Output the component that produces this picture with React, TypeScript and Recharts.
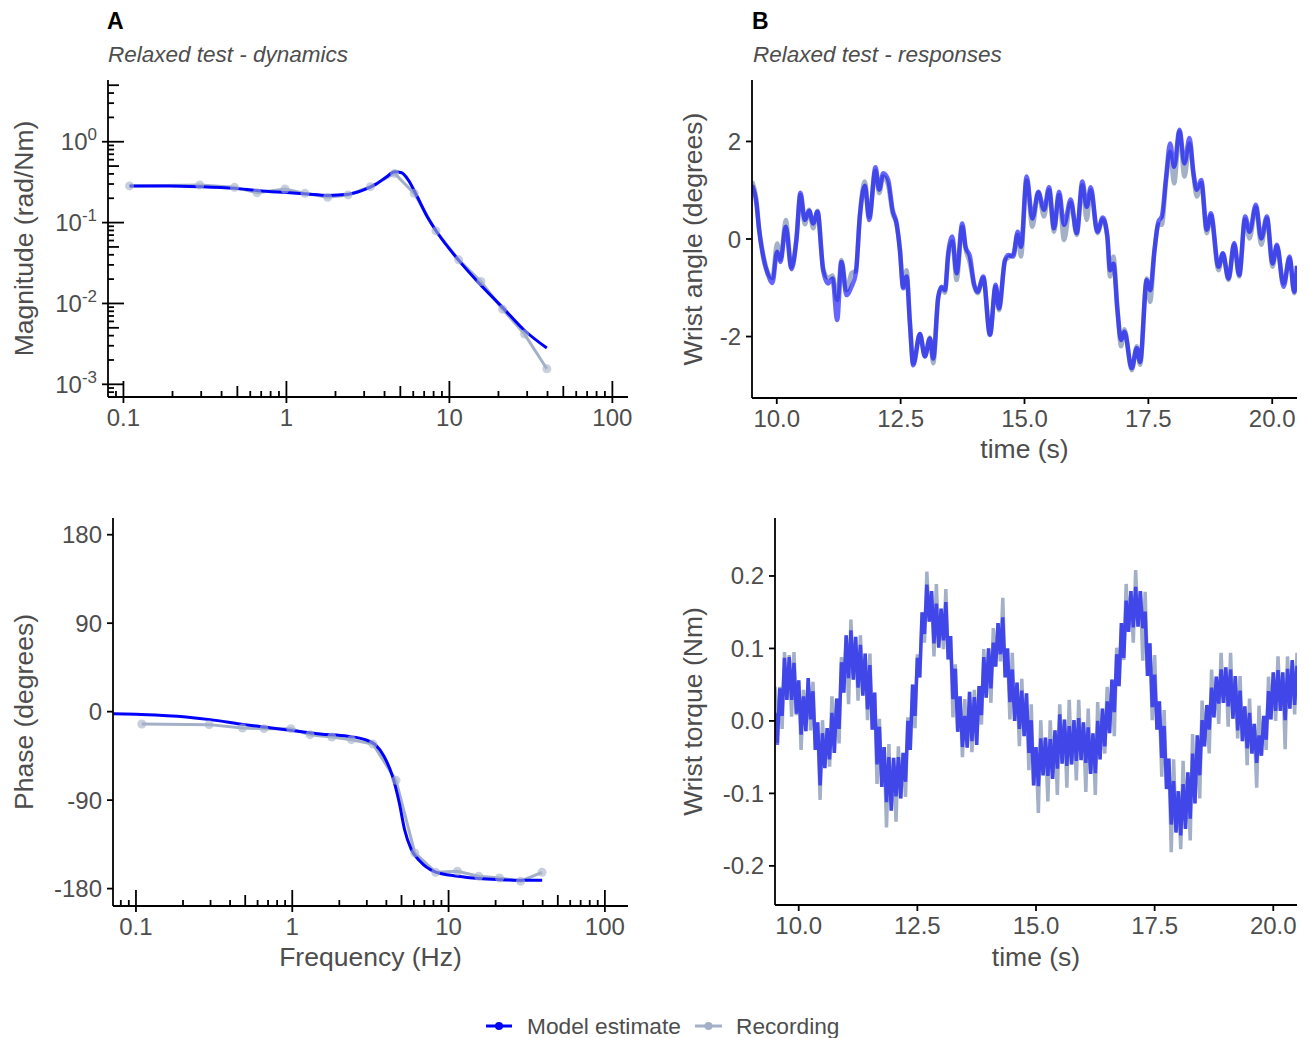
import React from "react";
import { LineChart, Line, XAxis, YAxis } from "recharts";

const FONT = "'Liberation Sans', Arial, Helvetica, sans-serif";
const INK = "#4d4d4d";
const BLUE = "#0000ff";
const GRAY = "#a3b0c8";

// ---- panel A: frequency response ----
const REC_FREQ = [0.109, 0.294, 0.48, 0.66, 0.98, 1.3, 1.79, 2.39, 3.28, 4.61, 6.08, 8.27, 11.4, 15.6, 21.2, 28.9, 39.6];
const REC_MAG = [0.284, 0.292, 0.273, 0.234, 0.26, 0.23, 0.206, 0.22, 0.278, 0.406, 0.23, 0.0789, 0.0346, 0.0187, 0.0085, 0.00418, 0.00156];
const REC_PHASE = [-12.5, -13.2, -16.6, -17.3, -17.3, -23.4, -25.8, -28.5, -32.9, -69.8, -143.7, -163.4, -162.4, -167.5, -169.2, -172.5, -163.4];

const MODEL_MAG_FREQ = [0.109, 0.19, 0.294, 0.48, 0.675, 1.0, 1.33, 1.79, 2.39, 2.9, 3.53, 4.08, 4.61, 5.09, 5.6, 6.32, 7.3, 8.48, 11.35, 15.2, 21.4, 28.6, 39.6];
const MODEL_MAG = [0.284, 0.284, 0.278, 0.265, 0.248, 0.235, 0.226, 0.217, 0.224, 0.248, 0.297, 0.363, 0.426, 0.414, 0.336, 0.213, 0.119, 0.0738, 0.0346, 0.0178, 0.00875, 0.00473, 0.00281];

const MODEL_PHASE_FREQ = [0.0713, 0.1, 0.209, 0.298, 0.495, 0.741, 1.0, 1.51, 2.26, 2.92, 3.4, 3.86, 4.38, 4.84, 5.23, 5.78, 6.57, 8.04, 11.5, 15.6, 21.1, 28.8, 39.7];
const MODEL_PHASE = [-2.0, -2.7, -5.4, -8.1, -13.2, -16.6, -19.3, -22.7, -25.1, -28.5, -33.6, -45.4, -65.8, -92.9, -120, -140.3, -152.2, -162.4, -167.5, -169.8, -170.9, -171.5, -171.5];

// ---- panel B: time responses ----
const ANGLE_T = [
  9.5, 9.589, 9.643, 9.724, 9.825, 9.912, 10.007, 10.074, 10.182, 10.296,
  10.397, 10.478, 10.566, 10.653, 10.734, 10.822, 10.936, 11.037, 11.125, 11.219,
  11.306, 11.407, 11.508, 11.596, 11.677, 11.778, 11.865, 11.993, 12.067, 12.148,
  12.249, 12.337, 12.418, 12.485, 12.552, 12.62, 12.687, 12.754, 12.889, 12.99,
  13.091, 13.158, 13.259, 13.327, 13.394, 13.461, 13.542, 13.63, 13.744, 13.811,
  13.899, 13.98, 14.054, 14.168, 14.303, 14.418, 14.485, 14.606, 14.673, 14.774,
  14.862, 14.929, 15.044, 15.158, 15.279, 15.394, 15.495, 15.596, 15.697, 15.798,
  15.933, 16.054, 16.168, 16.256, 16.337, 16.471, 16.579, 16.673, 16.727, 16.795,
  16.875, 16.949, 17.017, 17.165, 17.266, 17.333, 17.468, 17.535, 17.623, 17.704,
  17.771, 17.859, 17.939, 18.02, 18.128, 18.229, 18.33, 18.411, 18.478, 18.566,
  18.68, 18.761, 18.916, 19.003, 19.118, 19.232, 19.333, 19.454, 19.542, 19.67,
  19.778, 19.892, 20.007, 20.094, 20.229, 20.35, 20.444, 20.5,
];
const ANGLE_MODEL = [
  1.1, 0.73, 0.19, -0.36, -0.74, -0.9, -0.26, -0.47, 0.25, -0.62,
  -0.02, 0.95, 0.39, 0.58, 0.32, 0.56, -0.64, -0.91, -0.81, -1.66,
  -0.47, -1.15, -0.98, -0.7, 0.46, 1.09, 0.39, 1.47, 1.01, 1.35,
  1.21, 0.6, 0.32, -0.23, -1.01, -0.77, -1.73, -2.59, -1.95, -2.41,
  -2.04, -2.45, -1.18, -0.98, -1.05, -0.29, 0.05, -0.7, 0.32, -0.16,
  -0.36, -0.91, -1.08, -0.77, -1.97, -0.94, -1.42, -0.43, -0.33, -0.36,
  0.15, -0.16, 1.28, 0.42, 0.97, 0.6, 1.06, 0.22, 0.97, 0.29,
  0.81, 0.12, 1.18, 0.66, 1.06, 0.15, 0.44, 0.05, -0.64, -0.51,
  -1.46, -2.07, -1.9, -2.65, -2.24, -2.52, -0.84, -1.05, -0.23, 0.36,
  0.46, 1.28, 1.96, 1.48, 2.24, 1.55, 2.07, 1.35, 1.01, 1.21,
  0.19, 0.53, -0.57, -0.29, -0.81, -0.08, -0.74, 0.46, 0.15, 0.7,
  0.01, 0.46, -0.5, -0.12, -0.98, -0.36, -1.08, -0.55,
];
const ANGLE_REC = [
  1.18, 0.8, 0.22, -0.3, -0.7, -0.8, -0.09, -0.42, 0.39, -0.58,
  0.02, 0.9, 0.3, 0.6, 0.22, 0.58, -0.6, -0.8, -0.75, -1.25,
  -0.43, -1.05, -0.7, -0.65, 0.5, 1.18, 0.45, 1.4, 0.94, 1.28,
  1.1, 0.53, 0.3, -0.2, -0.98, -0.64, -1.7, -2.55, -1.95, -2.4,
  -2.02, -2.55, -1.22, -1.0, -1.1, -0.35, -0.05, -0.84, 0.25, -0.2,
  -0.5, -0.95, -1.11, -0.8, -1.95, -0.98, -1.46, -0.45, -0.38, -0.3,
  0.08, -0.36, 1.2, 0.25, 0.95, 0.46, 1.0, 0.15, 0.9, -0.02,
  0.75, 0.08, 1.1, 0.39, 1.0, 0.12, 0.4, 0.02, -0.77, -0.36,
  -1.4, -2.2, -1.85, -2.69, -2.2, -2.58, -0.81, -1.29, -0.25, 0.3,
  0.29, 1.2, 1.79, 1.14, 2.2, 1.28, 1.96, 1.3, 0.87, 1.15,
  0.12, 0.48, -0.64, -0.3, -0.84, -0.12, -0.77, 0.4, 0.01, 0.65,
  -0.12, 0.42, -0.57, -0.15, -0.91, -0.4, -1.11, -0.55,
];

// torque is sampled every 50 ms from 9.5 s
const TORQUE_T0 = 9.5;
const TORQUE_DT = 0.05;
const TORQUE_MODEL = [
  0.011, -0.033, 0.045, 0.007, 0.087, 0.029, 0.088, 0.029, 0.080, 0.010,
  0.056, -0.019, 0.034, -0.014, 0.059, 0.002, 0.041, -0.040, -0.002, -0.089,
  -0.017, -0.065, -0.010, -0.053, 0.011, -0.044, 0.031, -0.011, 0.081, 0.039,
  0.118, 0.059, 0.125, 0.057, 0.116, 0.046, 0.105, 0.035, 0.093, 0.016,
  0.077, -0.012, 0.039, -0.060, -0.008, -0.091, -0.036, -0.112, -0.050, -0.124,
  -0.051, -0.104, -0.050, -0.107, -0.044, -0.084, 0.000, -0.040, 0.050, 0.007,
  0.087, 0.060, 0.150, 0.120, 0.188, 0.137, 0.179, 0.107, 0.162, 0.101,
  0.155, 0.111, 0.164, 0.085, 0.117, 0.030, 0.072, -0.015, 0.034, -0.036,
  0.007, -0.037, 0.040, -0.028, 0.033, -0.033, 0.048, 0.008, 0.088, 0.032,
  0.100, 0.045, 0.108, 0.075, 0.135, 0.092, 0.143, 0.060, 0.100, 0.026,
  0.071, 0.000, 0.053, -0.011, 0.042, -0.021, 0.038, -0.044, 0.001, -0.089,
  -0.036, -0.090, -0.024, -0.075, -0.023, -0.076, -0.025, -0.080, -0.013, -0.066,
  0.009, -0.059, 0.002, -0.062, -0.007, -0.060, 0.001, -0.055, 0.004, -0.054,
  -0.002, -0.058, -0.009, -0.073, -0.017, -0.072, 0.000, -0.053, 0.017, -0.035,
  0.027, -0.017, 0.057, 0.012, 0.092, 0.048, 0.135, 0.087, 0.166, 0.123,
  0.179, 0.129, 0.185, 0.130, 0.179, 0.128, 0.151, 0.062, 0.107, 0.019,
  0.064, -0.012, 0.027, -0.051, -0.007, -0.094, -0.052, -0.143, -0.083, -0.154,
  -0.097, -0.158, -0.087, -0.149, -0.071, -0.135, -0.045, -0.114, -0.020, -0.075,
  0.001, -0.035, 0.022, -0.012, 0.046, 0.005, 0.061, 0.024, 0.071, 0.025,
  0.074, 0.020, 0.071, 0.003, 0.062, -0.013, 0.042, -0.028, 0.020, -0.038,
  0.011, -0.045, -0.004, -0.058, -0.020, -0.048, 0.007, -0.026, 0.041, 0.002,
  0.067, 0.014, 0.070, 0.014, 0.067, 0.001, 0.072, 0.017, 0.084, 0.022,
  0.076,
];
const TORQUE_REC = [
  0.047, -0.030, 0.047, -0.011, 0.095, 0.029, 0.091, 0.006, 0.095, 0.008,
  0.056, -0.040, 0.043, -0.014, 0.059, -0.013, 0.054, -0.040, -0.002, -0.109,
  0.001, -0.065, -0.010, -0.063, 0.034, -0.044, 0.031, -0.031, 0.088, 0.039,
  0.118, 0.023, 0.140, 0.057, 0.116, 0.028, 0.118, 0.035, 0.093, 0.001,
  0.093, -0.012, 0.039, -0.087, 0.003, -0.091, -0.036, -0.147, -0.032, -0.124,
  -0.051, -0.139, -0.035, -0.107, -0.044, -0.105, 0.005, -0.040, 0.050, -0.010,
  0.092, 0.060, 0.150, 0.108, 0.206, 0.137, 0.179, 0.089, 0.189, 0.101,
  0.155, 0.099, 0.182, 0.085, 0.117, 0.005, 0.078, -0.015, 0.034, -0.050,
  0.030, -0.037, 0.040, -0.043, 0.043, -0.033, 0.048, -0.005, 0.099, 0.032,
  0.100, 0.025, 0.128, 0.075, 0.135, 0.082, 0.170, 0.060, 0.100, 0.002,
  0.094, 0.000, 0.053, -0.035, 0.058, -0.021, 0.038, -0.068, 0.023, -0.089,
  -0.036, -0.127, 0.001, -0.075, -0.023, -0.111, 0.001, -0.080, -0.013, -0.102,
  0.023, -0.059, 0.002, -0.092, 0.029, -0.060, 0.001, -0.082, 0.029, -0.054,
  -0.002, -0.098, 0.017, -0.073, -0.017, -0.102, 0.026, -0.053, 0.017, -0.045,
  0.047, -0.017, 0.057, -0.021, 0.101, 0.048, 0.135, 0.084, 0.189, 0.123,
  0.179, 0.108, 0.208, 0.130, 0.179, 0.083, 0.178, 0.062, 0.107, 0.001,
  0.091, -0.012, 0.027, -0.077, 0.015, -0.094, -0.052, -0.181, -0.053, -0.154,
  -0.097, -0.177, -0.055, -0.149, -0.071, -0.165, -0.018, -0.114, -0.020, -0.107,
  0.028, -0.035, 0.022, -0.045, 0.071, 0.005, 0.061, -0.004, 0.094, 0.025,
  0.074, -0.008, 0.094, 0.003, 0.062, -0.024, 0.062, -0.028, 0.020, -0.061,
  0.031, -0.045, -0.004, -0.092, 0.021, -0.048, 0.007, -0.040, 0.061, 0.002,
  0.067, 0.000, 0.089, 0.014, 0.067, -0.039, 0.089, 0.017, 0.084, 0.009,
  0.094,
];

// axes
const MAG_X_DOMAIN: [number, number] = [0.0804, 124.7];
const MAG_Y_DOMAIN: [number, number] = [0.000697, 5.8];
const PHASE_X_DOMAIN: [number, number] = [0.0713, 140.6];
const PHASE_Y_DOMAIN: [number, number] = [-197.7, 197];
const PHASE_TICKS = [-180, -90, 0, 90, 180];
const TIME_DOMAIN: [number, number] = [9.5, 20.5];
const TIME_TICKS = [10, 12.5, 15, 17.5, 20];
const ANGLE_DOMAIN: [number, number] = [-3.26, 3.26];
const ANGLE_TICKS = [-2, 0, 2];
const TORQUE_DOMAIN: [number, number] = [-0.254, 0.28];
const TORQUE_TICKS = [-0.2, -0.1, 0, 0.1, 0.2];

const DECADES = [0.0001, 0.001, 0.01, 0.1, 1, 10, 100];
const STEPS = [1, 2, 3, 4, 5, 6, 7, 8, 9];
const logTicks = ([lo, hi]: [number, number]) =>
  DECADES.flatMap((d) => STEPS.map((s) => Number((s * d).toPrecision(2)))).filter((v) => v >= lo && v <= hi);
const mantissa = (v: number) => Math.round(v / Math.pow(10, Math.floor(Math.log10(v) + 1e-9)));

const TICK = 6;
const GAP_X = 6;
const GAP_Y = 5;
const AXIS = { stroke: "#000", strokeWidth: 1.8 };
const TICK_TEXT = { fill: INK, fontSize: 24, fontFamily: FONT };
const TITLE = { fill: INK, fontSize: 26.5, fontFamily: FONT };

const tickLen = (m: number) => (m === 1 ? 16 : m === 5 ? 11 : 6);

function LogXTick(props: any) {
  const { x, y, payload } = props;
  const v = payload.value;
  const m = mantissa(v);
  const base = y - TICK - GAP_X;
  return (
    <g>
      <line x1={x} x2={x} y1={m === 1 ? base + TICK : base} y2={base - tickLen(m)} stroke="#000" strokeWidth={1.8} />
      {m === 1 && (
        <text x={x} y={y} dy="0.71em" textAnchor="middle" {...TICK_TEXT}>
          {v}
        </text>
      )}
    </g>
  );
}

function LogYTick(props: any) {
  const { x, y, payload } = props;
  const v = payload.value;
  const m = mantissa(v);
  const base = x + TICK + GAP_Y;
  return (
    <g>
      <line x1={m === 1 ? base - TICK : base} x2={base + tickLen(m)} y1={y} y2={y} stroke="#000" strokeWidth={1.8} />
      {m === 1 && (
        <text x={x} y={y} dy="0.36em" textAnchor="end" {...TICK_TEXT}>
          10
          <tspan dy={-10} fontSize={17}>
            {Math.round(Math.log10(v))}
          </tspan>
        </text>
      )}
    </g>
  );
}

const zip = (xs: number[], ys: number[], k: string) => xs.map((x, i) => ({ [k]: x, v: ys[i] }));
const recMag = zip(REC_FREQ, REC_MAG, "f");
const recPhase = zip(REC_FREQ, REC_PHASE, "f");
const modelMag = zip(MODEL_MAG_FREQ, MODEL_MAG, "f");
const modelPhase = zip(MODEL_PHASE_FREQ, MODEL_PHASE, "f");
const angleModel = zip(ANGLE_T, ANGLE_MODEL, "t");
const angleRec = zip(ANGLE_T, ANGLE_REC, "t");
const torqueRows = (vals: number[]) => vals.map((v, i) => ({ t: +(TORQUE_T0 + i * TORQUE_DT).toFixed(2), v }));
const torqueModel = torqueRows(TORQUE_MODEL);
const torqueRec = torqueRows(TORQUE_REC);

const recDot = { r: 4.5, fill: GRAY, fillOpacity: 0.6, stroke: "none" };

function Overlay() {
  return (
    <svg width={1309} height={1038} style={{ position: "absolute", left: 0, top: 0 }}>
      <text x={107} y={29} fontFamily={FONT} fontSize={23} fontWeight="bold" fill="#000">A</text>
      <text x={752} y={29} fontFamily={FONT} fontSize={23} fontWeight="bold" fill="#000">B</text>
      <text x={108} y={62} fontFamily={FONT} fontSize={22.5} fontStyle="italic" fill={INK}>Relaxed test - dynamics</text>
      <text x={753} y={62} fontFamily={FONT} fontSize={22.5} fontStyle="italic" fill={INK}>Relaxed test - responses</text>
      <line x1={486} x2={512} y1={1026} y2={1026} stroke={BLUE} strokeWidth={3} />
      <circle cx={499} cy={1026} r={4} fill={BLUE} />
      <text x={527} y={1034} fontFamily={FONT} fontSize={22.7} fill={INK}>Model estimate</text>
      <line x1={695} x2={722} y1={1026} y2={1026} stroke={GRAY} strokeWidth={3} />
      <circle cx={708.5} cy={1026} r={4} fill={GRAY} />
      <text x={736} y={1034} fontFamily={FONT} fontSize={22.7} fill={INK}>Recording</text>
    </svg>
  );
}

export default function App() {
  return (
    <div style={{ position: "absolute", left: 0, top: 0, width: 1309, height: 1038, background: "#fff", overflow: "hidden" }}>
      <Overlay />

      <div style={{ position: "absolute", left: 0, top: 60 }}>
        <LineChart width={640} height={400} margin={{ top: 20, right: 12, bottom: 0, left: 0 }}>
          <XAxis dataKey="f" type="number" scale="log" domain={MAG_X_DOMAIN} allowDataOverflow ticks={logTicks(MAG_X_DOMAIN)} interval={0}
            tick={LogXTick} tickLine={false} tickSize={TICK} tickMargin={GAP_X} axisLine={AXIS} height={63} />
          <YAxis type="number" scale="log" domain={MAG_Y_DOMAIN} allowDataOverflow ticks={logTicks(MAG_Y_DOMAIN)} interval={0}
            tick={LogYTick} tickLine={false} tickSize={TICK} tickMargin={GAP_Y} axisLine={AXIS} width={108}
            label={{ value: "Magnitude (rad/Nm)", angle: -90, position: "insideLeft", offset: 24, style: { textAnchor: "middle" }, ...TITLE }} />
          <Line data={recMag} dataKey="v" type="linear" stroke={GRAY} strokeWidth={3} dot={recDot} isAnimationActive={false} />
          <Line data={modelMag} dataKey="v" type="monotone" stroke={BLUE} strokeWidth={3} dot={false} isAnimationActive={false} />
        </LineChart>
      </div>

      <div style={{ position: "absolute", left: 0, top: 500 }}>
        <LineChart width={640} height={490} margin={{ top: 18, right: 12, bottom: 0, left: 0 }}>
          <XAxis dataKey="f" type="number" scale="log" domain={PHASE_X_DOMAIN} allowDataOverflow ticks={logTicks(PHASE_X_DOMAIN)} interval={0}
            tick={LogXTick} tickLine={false} tickSize={TICK} tickMargin={GAP_X} axisLine={AXIS} height={84}
            label={{ value: "Frequency (Hz)", position: "insideBottom", offset: 24, ...TITLE }} />
          <YAxis type="number" domain={PHASE_Y_DOMAIN} allowDataOverflow ticks={PHASE_TICKS} interval={0}
            tick={TICK_TEXT} tickLine={AXIS} tickSize={TICK} tickMargin={GAP_Y} axisLine={AXIS} width={113}
            label={{ value: "Phase (degrees)", angle: -90, position: "insideLeft", offset: 24, style: { textAnchor: "middle" }, ...TITLE }} />
          <Line data={recPhase} dataKey="v" type="linear" stroke={GRAY} strokeWidth={3} dot={recDot} isAnimationActive={false} />
          <Line data={modelPhase} dataKey="v" type="monotone" stroke={BLUE} strokeWidth={3} dot={false} isAnimationActive={false} />
        </LineChart>
      </div>

      <div style={{ position: "absolute", left: 660, top: 60 }}>
        <LineChart width={649} height={420} margin={{ top: 20, right: 12, bottom: 0, left: 0 }}>
          <XAxis dataKey="t" type="number" domain={TIME_DOMAIN} allowDataOverflow ticks={TIME_TICKS} interval={0}
            tickFormatter={(v: number) => v.toFixed(1)} tick={TICK_TEXT} tickLine={AXIS} tickSize={TICK} tickMargin={GAP_X}
            axisLine={AXIS} height={82} label={{ value: "time (s)", position: "insideBottom", offset: 22, ...TITLE }} />
          <YAxis type="number" domain={ANGLE_DOMAIN} allowDataOverflow ticks={ANGLE_TICKS} interval={0}
            tick={TICK_TEXT} tickLine={AXIS} tickSize={TICK} tickMargin={GAP_Y} axisLine={AXIS} width={92}
            label={{ value: "Wrist angle (degrees)", angle: -90, position: "insideLeft", offset: 33, style: { textAnchor: "middle" }, ...TITLE }} />
          <Line data={angleRec} dataKey="v" type="monotone" stroke={GRAY} strokeWidth={4.5} dot={false} isAnimationActive={false} />
          <Line data={angleModel} dataKey="v" type="monotone" stroke={BLUE} strokeOpacity={0.6} strokeWidth={4.5} dot={false} isAnimationActive={false} />
        </LineChart>
      </div>

      <div style={{ position: "absolute", left: 660, top: 500 }}>
        <LineChart width={649} height={490} margin={{ top: 18, right: 12, bottom: 0, left: 0 }}>
          <XAxis dataKey="t" type="number" domain={TIME_DOMAIN} allowDataOverflow ticks={TIME_TICKS} interval={0}
            tickFormatter={(v: number) => v.toFixed(1)} tick={TICK_TEXT} tickLine={AXIS} tickSize={TICK} tickMargin={GAP_X}
            axisLine={AXIS} height={85} label={{ value: "time (s)", position: "insideBottom", offset: 24, ...TITLE }} />
          <YAxis type="number" domain={TORQUE_DOMAIN} allowDataOverflow ticks={TORQUE_TICKS} interval={0}
            tickFormatter={(v: number) => v.toFixed(1)} tick={TICK_TEXT} tickLine={AXIS} tickSize={TICK} tickMargin={GAP_Y}
            axisLine={AXIS} width={115}
            label={{ value: "Wrist torque (Nm)", angle: -90, position: "insideLeft", offset: 33, style: { textAnchor: "middle" }, ...TITLE }} />
          <Line data={torqueRec} dataKey="v" type="linear" stroke={GRAY} strokeWidth={3.5} dot={false} isAnimationActive={false} />
          <Line data={torqueModel} dataKey="v" type="linear" stroke={BLUE} strokeOpacity={0.6} strokeWidth={3.5} dot={false} isAnimationActive={false} />
        </LineChart>
      </div>
    </div>
  );
}
